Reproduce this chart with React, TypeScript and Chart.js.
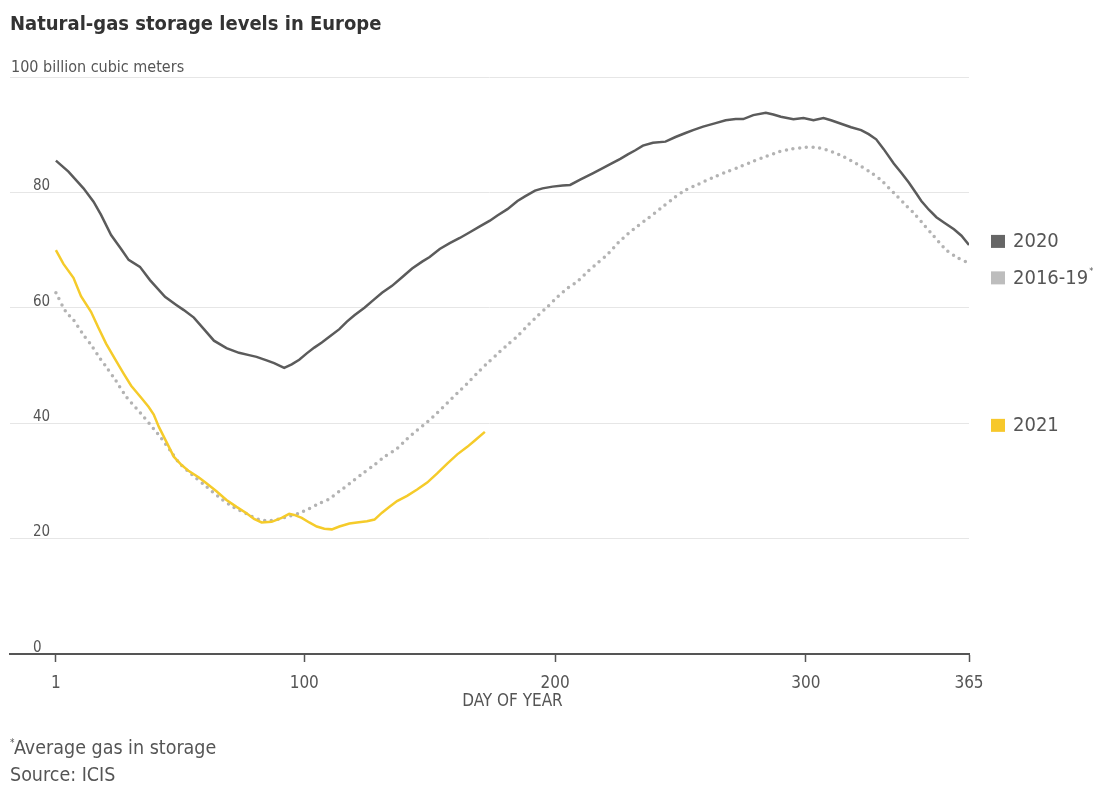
import { useEffect, useRef } from 'react';
import { Chart, registerables } from 'chart.js';

Chart.register(...registerables);

// Natural-gas storage in Europe, in 100 billion cubic meters, by day of year
const DAYS_2020 = [1, 6, 12, 16, 19, 23, 27, 30, 34.5, 38.5, 44.5, 49, 52, 56, 60, 64, 69, 74, 78, 81, 85, 88, 92, 95, 98, 101, 104, 107, 110, 114, 117, 120, 124, 128, 131, 135, 139, 143, 147, 150, 154, 158, 162, 166, 170, 174, 177, 181, 185, 188, 192, 195, 199, 203, 206, 210, 215, 219, 222, 226, 229, 232, 235, 239, 244, 248, 252, 255, 259, 264, 268, 272, 275, 279, 284, 287, 290, 295, 299, 303, 307, 310, 314, 318, 322, 325, 328, 331, 335, 338, 341, 344, 346, 349, 352, 355, 359, 362, 365];
const GAS_2020 = [85.5, 83.6, 80.7, 78.4, 76.1, 72.6, 70.2, 68.3, 67.1, 64.8, 61.9, 60.5, 59.6, 58.3, 56.3, 54.3, 53.0, 52.2, 51.8, 51.5, 50.9, 50.4, 49.6, 50.2, 51.0, 52.1, 53.1, 54.0, 55.0, 56.3, 57.6, 58.7, 60.0, 61.5, 62.6, 63.8, 65.3, 66.8, 68.0, 68.8, 70.2, 71.2, 72.1, 73.1, 74.1, 75.1, 76.0, 77.1, 78.5, 79.3, 80.3, 80.7, 81.0, 81.2, 81.3, 82.2, 83.3, 84.2, 84.9, 85.8, 86.6, 87.3, 88.1, 88.6, 88.8, 89.6, 90.3, 90.8, 91.4, 92.0, 92.5, 92.7, 92.7, 93.4, 93.8, 93.5, 93.1, 92.7, 92.9, 92.5, 92.9, 92.5, 91.9, 91.3, 90.8, 90.1, 89.2, 87.5, 85.0, 83.4, 81.7, 79.8, 78.5, 77.0, 75.7, 74.8, 73.6, 72.5, 70.9];

const DAYS_AVG = [1, 5, 8, 12, 15, 18, 21, 25, 29, 33, 36, 40, 43, 47, 50, 55, 61, 66, 72, 77, 82, 86, 90, 94, 98, 102, 106, 110, 114, 118, 123, 128, 132, 137, 141, 145, 149, 153, 157, 161, 165, 169, 173, 177, 181, 185, 189, 193, 197, 201, 205, 209, 213, 217, 221, 225, 229, 233, 237, 242, 247, 252, 257, 263, 268, 274, 279, 284, 289, 294, 300, 304, 308, 313, 318, 322, 326, 330, 333, 336, 340, 343, 347, 350, 353, 356, 360, 365];
const GAS_AVG = [62.6, 59.3, 57.9, 55.3, 53.6, 51.6, 49.8, 47.3, 44.6, 42.6, 41.1, 39.0, 37.4, 35.0, 33.2, 31.2, 29.0, 27.2, 25.4, 24.3, 23.3, 23.1, 23.4, 23.9, 24.4, 25.2, 26.1, 26.9, 28.2, 29.5, 31.2, 32.8, 34.2, 35.6, 37.3, 38.8, 40.2, 41.8, 43.5, 45.2, 46.9, 48.7, 50.4, 52.0, 53.6, 55.1, 56.9, 58.6, 60.2, 61.9, 63.4, 64.6, 66.3, 67.8, 69.3, 71.2, 72.8, 74.2, 75.5, 77.2, 78.9, 80.4, 81.4, 82.6, 83.5, 84.5, 85.4, 86.2, 87.0, 87.5, 87.8, 87.8, 87.4, 86.6, 85.5, 84.5, 83.4, 82.1, 80.8, 79.5, 77.7, 76.4, 74.4, 72.9, 71.4, 70.0, 68.8, 67.7];

const DAYS_2021 = [1, 4, 8, 11, 15, 18, 21, 25, 28, 31, 35, 38, 40, 42, 45, 48, 51, 54, 58, 61, 65, 69, 73, 77, 80, 83, 87, 91, 94, 96, 99, 102, 105, 108, 111, 114, 118, 121, 125, 128, 131, 134, 137, 141, 145, 149, 153, 157, 161, 165, 168, 172];
const GAS_2021 = [70.0, 67.6, 65.2, 62.0, 59.3, 56.5, 53.8, 50.8, 48.6, 46.5, 44.4, 42.8, 41.5, 39.4, 36.8, 34.2, 32.8, 31.7, 30.6, 29.6, 28.2, 26.7, 25.5, 24.4, 23.4, 22.8, 22.9, 23.6, 24.3, 24.1, 23.6, 22.8, 22.1, 21.7, 21.6, 22.1, 22.6, 22.8, 23.0, 23.3, 24.5, 25.5, 26.5, 27.4, 28.5, 29.7, 31.3, 33.0, 34.6, 35.9, 37.0, 38.5];

const SERIES_NAMES = ['2020', '2016-19', '2021'];
const X_TICKS = [1, 100, 200, 300, 365];
const Y_TICKS = [0, 20, 40, 60, 80, 100];

const TITLE = 'Natural-gas storage levels in Europe';
const UNIT_LABEL = '100 billion cubic meters';
const X_TITLE = 'DAY OF YEAR';
const FOOTNOTE = 'Average gas in storage';
const SOURCE = 'Source: ICIS';

const FONT = "'Liberation Sans Narrow', 'Arial Narrow', 'DejaVu Sans Condensed', sans-serif";
const TEXT = '#555555';
const LINE_2020 = '#5b5b5b';
const DOTS_AVG = '#b3b3b3';
const LINE_2021 = '#f5cb2a';

const W = 1098;
const H = 785;

const toPoints = (xs: number[], ys: number[]) => xs.map((x, i) => ({ x, y: ys[i] }));

export default function App() {
  const canvasRef = useRef<HTMLCanvasElement | null>(null);

  useEffect(() => {
    const canvas = canvasRef.current;
    if (!canvas) return;

    const annotations = {
      id: 'annotations',
      afterDraw(chart: any) {
        const { ctx, scales } = chart;
        const xs = scales.x;
        const ys = scales.y;
        ctx.save();
        ctx.textBaseline = 'middle';
        ctx.textAlign = 'left';

        // headline
        ctx.fillStyle = '#333333';
        ctx.font = `bold 20px ${FONT}`;
        ctx.fillText(TITLE, 10, 25);

        // unit label sits on the top grid line
        ctx.fillStyle = TEXT;
        ctx.font = `16px ${FONT}`;
        ctx.fillText(UNIT_LABEL, 11, ys.getPixelForValue(100) - 9);

        // axis title, centred under the day range
        ctx.textAlign = 'center';
        ctx.font = `17px ${FONT}`;
        const mid = (xs.getPixelForValue(X_TICKS[0]) + xs.getPixelForValue(X_TICKS[X_TICKS.length - 1])) / 2;
        ctx.fillText(X_TITLE, mid, 702);

        // footnotes
        ctx.textAlign = 'left';
        ctx.font = `10px ${FONT}`;
        ctx.fillText('*', 10, 743);
        ctx.font = `19.5px ${FONT}`;
        ctx.fillText(FOOTNOTE, 14, 749);
        ctx.fillText(SOURCE, 10, 776);

        // series labels at the right edge
        const lastOf = (arr: number[]) => arr[arr.length - 1];
        const items = [
          { name: SERIES_NAMES[0], color: '#666666', y: ys.getPixelForValue(lastOf(GAS_2020)) - 3, star: false },
          { name: SERIES_NAMES[1], color: '#bdbdbd', y: ys.getPixelForValue(lastOf(GAS_AVG)) + 15, star: true },
          { name: SERIES_NAMES[2], color: '#f7c82b', y: ys.getPixelForValue(lastOf(GAS_2021)) - 6, star: false },
        ];
        items.forEach((it) => {
          ctx.fillStyle = it.color;
          ctx.fillRect(991, it.y - 7, 14, 13);
          ctx.fillStyle = TEXT;
          ctx.font = `20px ${FONT}`;
          ctx.fillText(it.name, 1013, it.y);
          if (it.star) {
            const w = ctx.measureText(it.name).width;
            ctx.font = `9px ${FONT}`;
            ctx.fillText('*', 1013 + w + 1, it.y - 7);
          }
        });
        ctx.restore();
      },
    };

    const chart = new Chart(canvas, {
      type: 'line',
      data: {
        datasets: [
          {
            label: SERIES_NAMES[2],
            data: toPoints(DAYS_2021, GAS_2021),
            borderColor: LINE_2021,
            borderWidth: 2.5,
            pointRadius: 0,
            tension: 0,
            order: 0,
          },
          {
            label: SERIES_NAMES[0],
            data: toPoints(DAYS_2020, GAS_2020),
            borderColor: LINE_2020,
            borderWidth: 2.5,
            pointRadius: 0,
            tension: 0,
            order: 1,
          },
          {
            label: SERIES_NAMES[1],
            data: toPoints(DAYS_AVG, GAS_AVG),
            borderColor: DOTS_AVG,
            borderWidth: 3.5,
            borderDash: [0, 6.7],
            borderCapStyle: 'round',
            pointRadius: 0,
            tension: 0.3,
            order: 2,
          },
        ],
      },
      options: {
        responsive: false,
        animation: false,
        devicePixelRatio: 1,
        layout: { padding: { left: 10, right: W - 969, top: 77, bottom: H - 654 - 40 } },
        plugins: { legend: { display: false }, tooltip: { enabled: false }, title: { display: false } },
        scales: {
          x: {
            type: 'linear',
            min: -17.3,
            max: 365,
            afterBuildTicks: (s: any) => {
              s.ticks = X_TICKS.map((v) => ({ value: v }));
            },
            afterFit: (s: any) => {
              s.height = 40;
            },
            grid: { drawOnChartArea: false, drawTicks: true, tickLength: 8, tickColor: '#555555', tickWidth: 1.5 },
            border: { display: true, color: '#555555', width: 2 },
            ticks: { font: { family: FONT, size: 17 }, color: TEXT, padding: 11, maxRotation: 0, autoSkip: false },
          },
          y: {
            min: 0,
            max: 100,
            afterBuildTicks: (s: any) => {
              s.ticks = Y_TICKS.map((v) => ({ value: v }));
            },
            afterFit: (s: any) => {
              s.width = 0;
            },
            grid: { color: '#e6e6e6', lineWidth: 1, drawTicks: false },
            border: { display: false },
            ticks: {
              mirror: true,
              padding: 23,
              labelOffset: -6,
              font: { family: FONT, size: 15 },
              color: TEXT,
              callback: (v: any) => (v === 100 ? '' : String(v)),
            },
          },
        },
      },
      plugins: [annotations],
    } as any);

    return () => chart.destroy();
  }, []);

  return (
    <div style={{ position: 'absolute', left: 0, top: 0, width: W, height: H, background: '#ffffff' }}>
      <canvas ref={canvasRef} width={W} height={H} style={{ display: 'block' }} />
    </div>
  );
}
